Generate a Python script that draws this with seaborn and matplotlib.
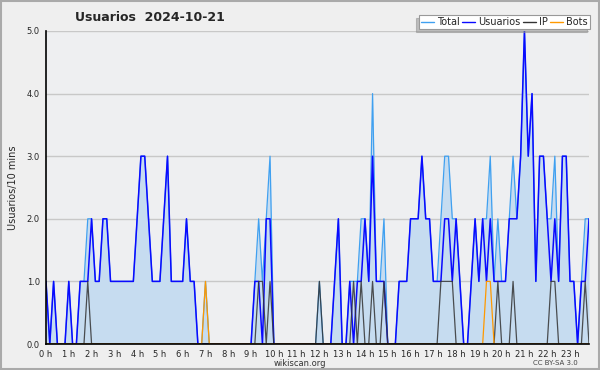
import matplotlib
matplotlib.use('Agg')
import matplotlib.pyplot as plt
import seaborn as sns
import pandas as pd
from matplotlib.patches import Rectangle
from matplotlib.lines import Line2D

# valores a cada 10 minutos (144 pontos no dia)
total = [1, 0, 1, 0, 0, 0, 1, 0, 0, 1, 1, 2, 2, 1, 1, 2, 2, 1, 1, 1, 1, 1, 1, 1,
         2, 3, 3, 2, 1, 1, 1, 2, 3, 1, 1, 1, 1, 2, 1, 1, 0, 0, 1, 0, 0, 0, 0, 0,
         0, 0, 0, 0, 0, 0, 0, 1, 2, 1, 2, 3, 0, 0, 0, 0, 0, 0, 0, 0, 0, 0, 0, 0,
         1, 0, 0, 0, 1, 2, 0, 0, 1, 1, 1, 2, 2, 1, 4, 1, 1, 2, 0, 0, 0, 1, 1, 1,
         2, 2, 2, 3, 2, 2, 1, 1, 2, 3, 3, 2, 2, 1, 0, 0, 1, 2, 1, 2, 2, 3, 1, 2,
         1, 1, 2, 3, 2, 3, 5, 3, 4, 1, 3, 3, 2, 2, 3, 1, 3, 3, 1, 1, 0, 1, 2, 2]
usuarios = [1, 0, 1, 0, 0, 0, 1, 0, 0, 1, 1, 1, 2, 1, 1, 2, 2, 1, 1, 1, 1, 1, 1, 1,
            2, 3, 3, 2, 1, 1, 1, 2, 3, 1, 1, 1, 1, 2, 1, 1, 0, 0, 0, 0, 0, 0, 0, 0,
            0, 0, 0, 0, 0, 0, 0, 1, 1, 0, 2, 2, 0, 0, 0, 0, 0, 0, 0, 0, 0, 0, 0, 0,
            0, 0, 0, 0, 1, 2, 0, 0, 1, 0, 1, 1, 2, 1, 3, 1, 1, 1, 0, 0, 0, 1, 1, 1,
            2, 2, 2, 3, 2, 2, 1, 1, 1, 2, 2, 1, 2, 1, 0, 0, 1, 2, 1, 2, 1, 2, 1, 1,
            1, 1, 2, 2, 2, 3, 5, 3, 4, 1, 3, 3, 2, 1, 2, 1, 3, 3, 1, 1, 0, 1, 1, 2]
ip = [0, 0, 0, 0, 0, 0, 0, 0, 0, 0, 0, 1, 0, 0, 0, 0, 0, 0, 0, 0, 0, 0, 0, 0,
      0, 0, 0, 0, 0, 0, 0, 0, 0, 0, 0, 0, 0, 0, 0, 0, 0, 0, 0, 0, 0, 0, 0, 0,
      0, 0, 0, 0, 0, 0, 0, 0, 1, 1, 0, 1, 0, 0, 0, 0, 0, 0, 0, 0, 0, 0, 0, 0,
      1, 0, 0, 0, 0, 0, 0, 0, 0, 1, 0, 1, 0, 0, 1, 0, 0, 1, 0, 0, 0, 0, 0, 0,
      0, 0, 0, 0, 0, 0, 0, 0, 1, 1, 1, 1, 0, 0, 0, 0, 0, 0, 0, 0, 0, 0, 0, 1,
      0, 0, 0, 1, 0, 0, 0, 0, 0, 0, 0, 0, 0, 1, 1, 0, 0, 0, 0, 0, 0, 0, 1, 0]
bots = [0] * 42 + [1] + [0] * 73 + [1, 1] + [0] * 26
horas = [f'{h} h' for h in range(24)]

df = pd.DataFrame({'t': range(144), 'Total': total, 'Usuarios': usuarios,
                   'IP': ip, 'Bots': bots})

cores = {'Total': '#3fa0f0', 'Usuarios': '#0a0aff', 'IP': '#333333', 'Bots': '#ff9900'}

sns.set_style('white')
plt.rcParams['font.family'] = ['DejaVu Sans']

fig = plt.figure(figsize=(6, 3.7), dpi=100, facecolor='#efefef')
ax = fig.add_axes([46 / 600, 1 - 344 / 370, 543 / 600, 313 / 370])
ax.set_facecolor('#eeeff1')

# area do total e linhas
ax.fill_between(df['t'], df['Total'], color='#c6dcf0', lw=0)
sns.lineplot(data=df, x='t', y='Total', color=cores['Total'], lw=0.9, ax=ax)
sns.lineplot(data=df, x='t', y='Usuarios', color=cores['Usuarios'], lw=1.1, ax=ax)
sns.lineplot(data=df, x='t', y='IP', color=cores['IP'], lw=0.9, ax=ax, alpha=0.85)
sns.lineplot(data=df, x='t', y='Bots', color=cores['Bots'], lw=0.9, ax=ax)

ax.set_xlim(0, 143)
ax.set_ylim(0, 5)
ax.set_yticks([0, 1, 2, 3, 4, 5])
ax.set_yticklabels(['0.0', '1.0', '2.0', '3.0', '4.0', '5.0'], fontsize=6)
ax.set_yticks([k * 0.25 for k in range(21)], minor=True)
ax.set_xticks(range(0, 144, 6))
ax.set_xticklabels(horas, fontsize=6)
ax.set_xticks(range(0, 144), minor=True)
ax.tick_params(axis='both', which='major', length=4, width=1, pad=0.5, color='black')
ax.tick_params(axis='both', which='minor', length=3, width=0.8, color='black')
ax.yaxis.grid(True, color='#c8c8c8', lw=1)
ax.set_axisbelow(True)
for s in ['top', 'right']:
    ax.spines[s].set_visible(False)
for s in ['left', 'bottom']:
    ax.spines[s].set_color('black')
    ax.spines[s].set_linewidth(1.2)
ax.set_xlabel('')
ax.set_ylabel('Usuarios/10 mins', fontsize=7, labelpad=6)

fig.text(0.25, 0.954, 'Usuarios  2024-10-21', ha='center', va='center',
         fontsize=9, fontweight='bold')
fig.text(0.5, 0.017, 'wikiscan.org', ha='center', va='center', fontsize=6, color='#333333')
fig.text(0.925, 0.02, 'CC BY-SA 3.0', ha='center', va='center', fontsize=5, color='#444444')

handles = [Line2D([], [], color=cores[k], lw=1) for k in ['Total', 'Usuarios', 'IP', 'Bots']]
leg = fig.legend(handles, ['Total', 'Usuarios', 'IP', 'Bots'], loc='upper right',
                 bbox_to_anchor=(590 / 600, 1 - 15 / 370), ncol=4, fontsize=7,
                 handlelength=1.3, handletextpad=0.35, columnspacing=0.25,
                 borderpad=0.2, borderaxespad=0, fancybox=False,
                 shadow={'ox': -2, 'oy': -2, 'shade': 0.45}, framealpha=1,
                 edgecolor='#999999')
leg.get_frame().set_linewidth(0.8)

fig.patches.append(Rectangle((0.001, 0.002), 0.997, 0.995, transform=fig.transFigure,
                             fill=False, edgecolor='#aaaaaa', lw=1.5))

fig.savefig('out.png', dpi=100, facecolor=fig.get_facecolor())
